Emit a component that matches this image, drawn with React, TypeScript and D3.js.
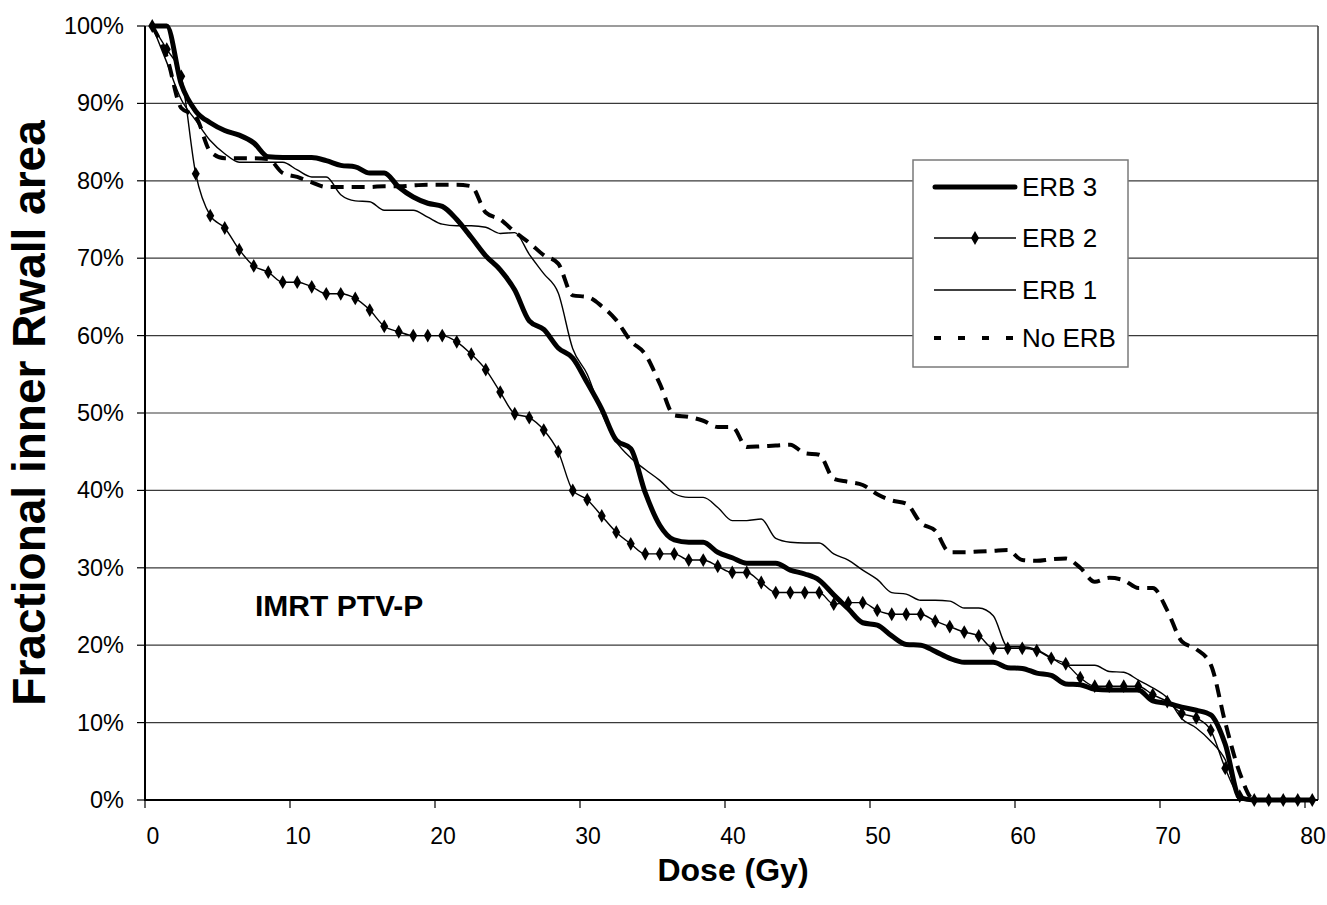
import React from "react";
import * as d3 from "d3";

const dose = [0.5,1.5,2.5,3.5,4.5,5.5,6.5,7.5,8.5,9.5,10.5,11.5,12.5,13.5,14.5,15.5,16.5,17.5,18.5,19.5,20.5,21.5,22.5,23.5,24.5,25.5,26.5,27.5,28.5,29.5,30.5,31.5,32.5,33.5,34.5,35.5,36.5,37.5,38.5,39.5,40.5,41.5,42.5,43.5,44.5,45.5,46.5,47.5,48.5,49.5,50.5,51.5,52.5,53.5,54.5,55.5,56.5,57.5,58.5,59.5,60.5,61.5,62.5,63.5,64.5,65.5,66.5,67.5,68.5,69.5,70.5,71.5,72.5,73.5,74.5,75.5,76.5,77.5,78.5,79.5,80.5];

const erb3 = [100,100,92.5,89,87.5,86.5,85.9,84.9,83.1,83.0,83.0,83.0,82.6,82.0,81.8,81.0,81.0,79.2,77.9,77.1,76.7,75.0,72.7,70.3,68.5,65.9,61.9,60.8,58.4,57.1,53.9,50.5,46.5,45.4,39.7,35.5,33.6,33.3,33.3,32.0,31.3,30.6,30.6,30.6,29.7,29.2,28.4,26.5,24.7,22.9,22.6,21.2,20.1,20.0,19.2,18.3,17.8,17.8,17.8,17.1,17.0,16.4,16.1,15.0,14.9,14.3,14.2,14.2,14.2,12.8,12.5,12.0,11.6,11.0,7.2,0.3,0,0,0,0,0];

const erb2 = [100,97,93.5,80.9,75.5,73.9,71.1,69.0,68.2,66.9,66.9,66.3,65.4,65.4,64.8,63.3,61.2,60.5,60.0,60.0,60.0,59.2,57.6,55.6,52.7,49.9,49.4,47.8,45.0,40.0,38.8,36.7,34.6,33.1,31.8,31.8,31.8,31.0,31.0,30.2,29.4,29.4,28.1,26.8,26.8,26.8,26.8,25.3,25.5,25.5,24.5,24.0,24.0,24.0,23.1,22.4,21.7,21.2,19.6,19.6,19.6,19.3,18.3,17.6,15.8,14.7,14.7,14.7,14.7,13.6,12.7,11.2,10.6,9.0,4.1,0.5,0,0,0,0,0];

const erb1 = [100,95.3,90.5,87.8,85.2,83.5,82.4,82.4,82.4,82.4,81.4,80.5,80.5,78.2,77.4,77.3,76.2,76.2,76.2,75.3,74.4,74.2,74.2,74.0,73.2,73.3,70.5,68.0,65.5,58.3,55.0,50.0,46.3,44.2,42.7,41.3,39.6,39.1,39.1,37.8,36.1,36.1,36.3,33.8,33.3,33.2,33.2,31.8,31.0,29.7,28.5,26.8,26.6,25.8,25.8,25.7,24.8,24.8,23.8,19.8,19.8,19.4,18.4,17.4,17.4,17.4,16.6,16.5,15.5,14.5,13.2,10.5,9.3,7.6,5.2,0.3,0,0,0,0,0];

const noErb = [100,96,89.4,88.3,83.8,82.9,82.9,82.9,82.8,81.0,80.5,79.8,79.2,79.2,79.2,79.2,79.3,79.3,79.4,79.5,79.5,79.5,79.3,75.9,75.0,73.4,72.0,70.4,69.3,65.2,65.0,63.8,62.0,59.3,57.6,53.8,49.7,49.5,49.0,48.2,48.2,45.6,45.7,45.8,45.9,44.8,44.6,41.5,41.1,40.7,39.5,38.7,38.3,35.8,34.8,32.0,32.0,32.1,32.2,32.3,31.0,30.9,31.1,31.2,30.0,28.2,28.7,28.4,27.4,27.4,24.5,20.5,19.5,17.5,10.0,3.5,0,0,0,0,0];

const xTicks = [0, 10, 20, 30, 40, 50, 60, 70, 80];
const yTicks = [0, 10, 20, 30, 40, 50, 60, 70, 80, 90, 100];
const legendLabels = ["ERB 3", "ERB 2", "ERB 1", "No ERB"];

const FONT = "'Liberation Sans', Arial, sans-serif";

export default function App() {
  const left = 145, right = 1318, top = 26, bottom = 800;
  const x = d3.scaleLinear().domain([0, 80]).range([145, 1305]);
  const y = d3.scaleLinear().domain([0, 100]).range([bottom, top]);

  const mk = (vals: number[]) =>
    d3.line<number>().x((_, i) => x(dose[i])).y((v) => y(v)).curve(d3.curveMonotoneX)(vals) || "";

  const diamond = d3.symbol().type(d3.symbolDiamond).size(55)() || "";

  const legX = 913, legY = 160, legW = 215, legH = 207;
  const legRows = [187, 238, 290, 338];

  return (
    <svg width={1327} height={905} style={{ position: "absolute", left: 0, top: 0, background: "#fff" }} fontFamily={FONT}>
      <rect x={0} y={0} width={1327} height={905} fill="#fff" />
      {yTicks.map((t) => (
        <line key={"g" + t} x1={left} x2={right} y1={y(t)} y2={y(t)} stroke="#3a3a3a" strokeWidth={1.2} />
      ))}
      <line x1={right} x2={right} y1={top} y2={bottom} stroke="#3a3a3a" strokeWidth={1.5} />

      <path d={mk(noErb)} fill="none" stroke="#000" strokeWidth={4} strokeDasharray="13 8" />
      <path d={mk(erb1)} fill="none" stroke="#000" strokeWidth={1.4} />
      <path d={mk(erb2)} fill="none" stroke="#000" strokeWidth={1.4} />
      {erb2.map((v, i) => (
        <path key={"m" + i} d={diamond} transform={`translate(${x(dose[i])},${y(v)})`} fill="#000" />
      ))}
      <path d={mk(erb3)} fill="none" stroke="#000" strokeWidth={5} strokeLinejoin="round" />

      <line x1={left} x2={left} y1={top} y2={bottom + 1} stroke="#000" strokeWidth={2} />
      <line x1={left - 1} x2={right} y1={bottom} y2={bottom} stroke="#000" strokeWidth={2} />
      {yTicks.map((t) => (
        <g key={"yt" + t}>
          <line x1={left - 8} x2={left} y1={y(t)} y2={y(t)} stroke="#000" strokeWidth={1.2} />
          <text x={124} y={y(t) + 8} fontSize={23.5} textAnchor="end" fill="#000">{t + "%"}</text>
        </g>
      ))}
      {xTicks.map((t) => (
        <g key={"xt" + t}>
          <line x1={x(t)} x2={x(t)} y1={bottom} y2={bottom + 8} stroke="#000" strokeWidth={1.2} />
          <text x={x(t) + 8} y={844} fontSize={23} textAnchor="middle" fill="#000">{t}</text>
        </g>
      ))}

      <text x={733} y={881} fontSize={32} fontWeight="bold" textAnchor="middle">Dose (Gy)</text>
      <text transform="translate(45,413) rotate(-90)" fontSize={46} fontWeight="bold" textAnchor="middle">Fractional inner Rwall area</text>
      <text x={255} y={616} fontSize={30} fontWeight="bold">IMRT PTV-P</text>

      <rect x={legX} y={legY} width={legW} height={legH} fill="#fff" stroke="#7a7a7a" strokeWidth={1.5} />
      <line x1={935} x2={1015} y1={legRows[0]} y2={legRows[0]} stroke="#000" strokeWidth={5} strokeLinecap="round" />
      <line x1={934} x2={1016} y1={legRows[1]} y2={legRows[1]} stroke="#000" strokeWidth={1.4} />
      <path d={diamond} transform={`translate(975,${legRows[1]})`} fill="#000" />
      <line x1={934} x2={1016} y1={legRows[2]} y2={legRows[2]} stroke="#000" strokeWidth={1.4} />
      <line x1={934} x2={1016} y1={legRows[3]} y2={legRows[3]} stroke="#000" strokeWidth={4} strokeDasharray="7 17" />
      {legendLabels.map((l, i) => (
        <text key={l} x={1022} y={legRows[i] + 9} fontSize={26} fill="#000">{l}</text>
      ))}
    </svg>
  );
}
